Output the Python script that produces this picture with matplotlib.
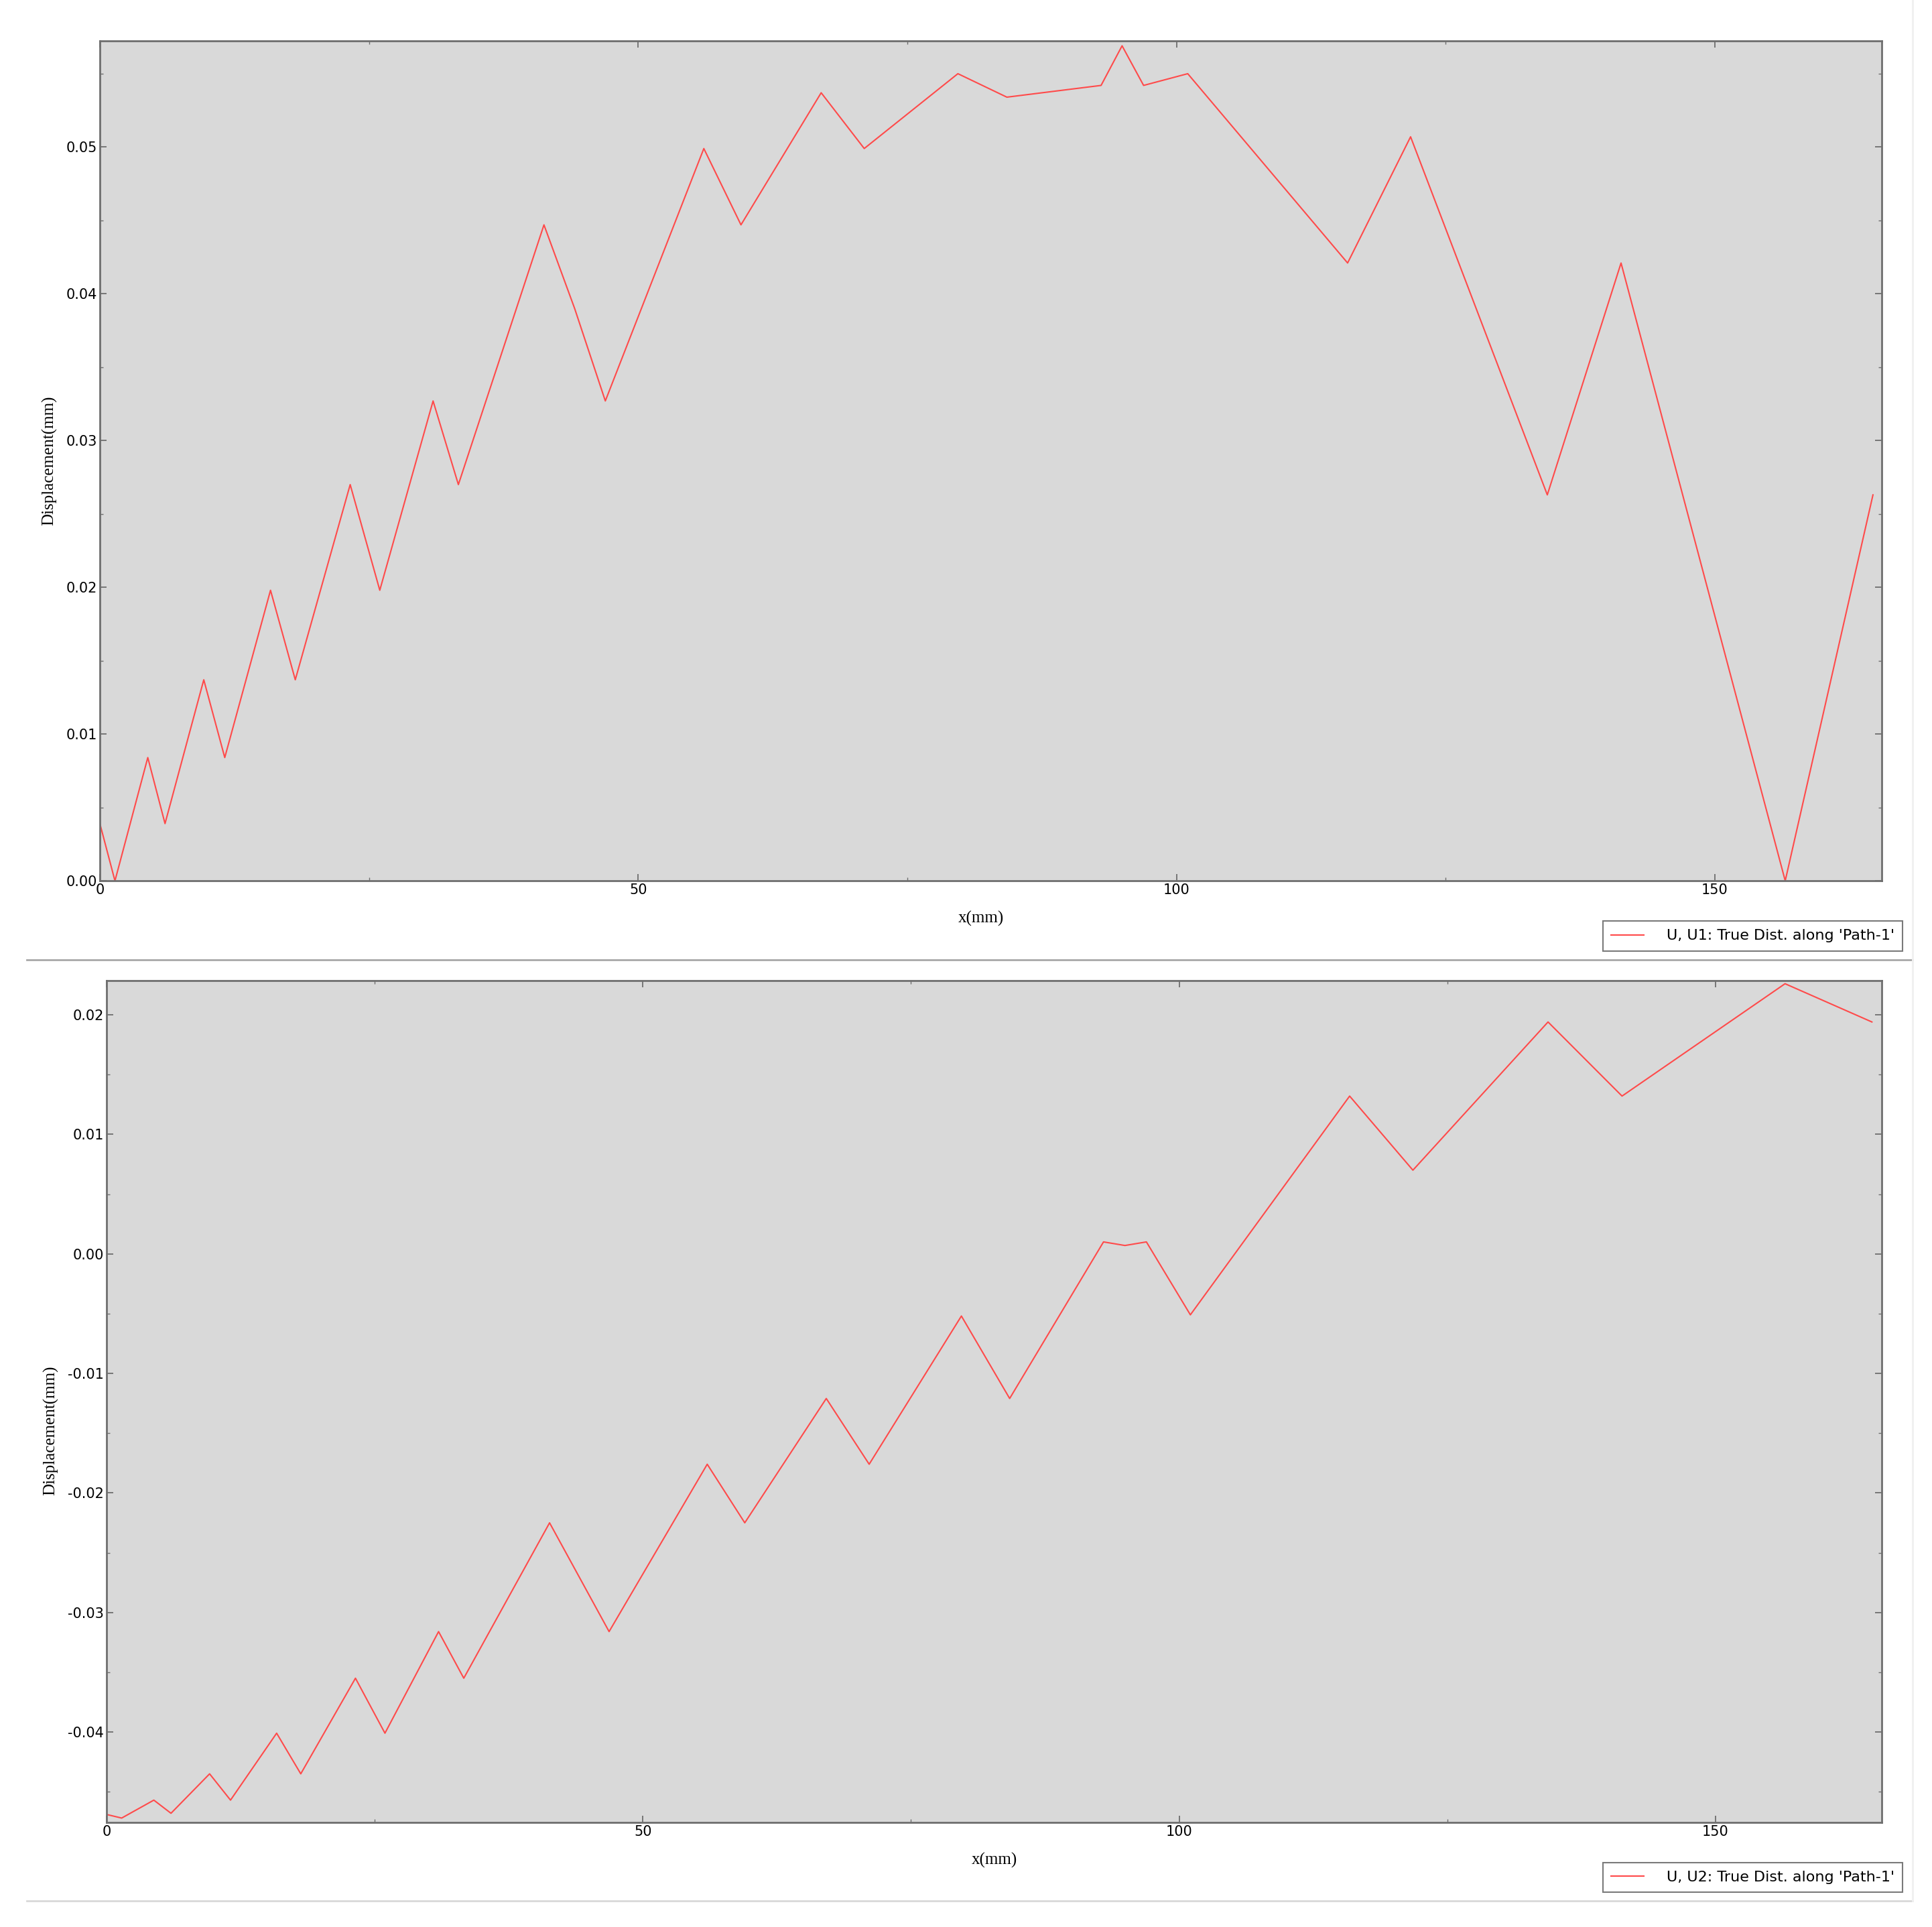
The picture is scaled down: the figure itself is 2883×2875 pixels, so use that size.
import matplotlib
matplotlib.use('Agg')
import matplotlib.pyplot as plt
from matplotlib.ticker import MultipleLocator, FormatStrFormatter
from matplotlib.lines import Line2D

plt.rcParams['axes.unicode_minus'] = False

# ---- data ----
x_u1 = [0, 1.4, 4.45, 6.05, 9.65, 11.6, 15.85, 18.15, 23.25, 26.0, 30.95, 33.3,
        41.25, 44.1, 46.95, 56.1, 59.55, 67.0, 71.0, 79.7, 84.25, 93.0, 94.95,
        96.95, 101.05, 115.9, 121.75, 134.45, 141.3, 156.55, 164.7]
u1 = [0.0039, 0.0, 0.0084, 0.0039, 0.0137, 0.0084, 0.0198, 0.0137, 0.0270, 0.0198,
      0.0327, 0.0270, 0.0447, 0.0390, 0.0327, 0.0499, 0.0447, 0.0537, 0.0499,
      0.0550, 0.0534, 0.0542, 0.0569, 0.0542, 0.0550, 0.0421, 0.0507, 0.0263,
      0.0421, 0.0, 0.0263]

x_u2 = [0, 1.4, 4.4, 6.0, 9.6, 11.55, 15.85, 18.1, 23.2, 25.95, 30.95, 33.3,
        41.3, 46.85, 56.0, 59.5, 67.1, 71.1, 79.7, 84.2, 92.95, 94.95, 96.95,
        101.05, 115.9, 121.8, 134.4, 141.3, 156.5, 164.6]
u2 = [-0.0469, -0.0472, -0.0457, -0.0468, -0.0435, -0.0457, -0.0401, -0.0435,
      -0.0355, -0.0401, -0.0316, -0.0355, -0.0225, -0.0316, -0.0176, -0.0225,
      -0.0121, -0.0176, -0.0052, -0.0121, 0.0010, 0.0007, 0.0010, -0.0051,
      0.0132, 0.0070, 0.0194, 0.0132, 0.0226, 0.0194]

label_u1 = "U, U1: True Dist. along 'Path-1'"
label_u2 = "U, U2: True Dist. along 'Path-1'"

line_col = '#ff4a4a'
face_col = '#d9d9d9'
spine_col = '#6e6e6e'

fig = plt.figure(figsize=(28.83, 28.75), dpi=100)
fig.patch.set_facecolor('white')

ax1 = fig.add_axes([0.0517, 0.5429, 0.9222, 0.4360])
ax2 = fig.add_axes([0.0552, 0.0543, 0.9187, 0.4367])


def style(ax, ylim, ymaj, lab_y, lab_x):
    ax.set_facecolor(face_col)
    ax.set_xlim(0, 165.5)
    ax.set_ylim(*ylim)
    ax.xaxis.set_major_locator(MultipleLocator(50))
    ax.xaxis.set_minor_locator(MultipleLocator(25))
    ax.yaxis.set_major_locator(MultipleLocator(ymaj))
    ax.yaxis.set_minor_locator(MultipleLocator(ymaj / 2))
    ax.yaxis.set_major_formatter(FormatStrFormatter('%.2f'))
    ax.tick_params(which='both', direction='in', top=True, right=True,
                   color=spine_col, labelsize=15, labelcolor='black')
    ax.tick_params(which='major', length=7, width=1.3, pad=3)
    ax.tick_params(which='minor', length=3.5, width=1.0)
    for s in ax.spines.values():
        s.set_color(spine_col)
        s.set_linewidth(2)
    ax.set_xlabel('x(mm)', family='Liberation Serif', fontsize=18)
    ax.set_ylabel('Displacement(mm)', family='Liberation Serif', fontsize=18)
    ax.xaxis.set_label_coords(lab_x, -0.036)
    ax.yaxis.set_label_coords(-0.024, lab_y)


style(ax1, (0, 0.05725), 0.01, 0.5, 0.4945)
ax1.plot(x_u1, u1, color=line_col, lw=1.5)

style(ax2, (-0.04756, 0.02284), 0.01, 0.466, 0.50)
ax2.yaxis.set_label_coords(-0.027, 0.466)
ax2.plot(x_u2, u2, color=line_col, lw=1.5)

# legends below each plot, as in the Abaqus viewport
for lab, top in [(label_u1, 0.5220), (label_u2, 0.0335)]:
    h = Line2D([], [], color=line_col, lw=1.5)
    leg = fig.legend([h], [lab], loc='upper right', bbox_to_anchor=(0.9847, top),
                     bbox_transform=fig.transFigure, fontsize=16, frameon=True,
                     fancybox=False, framealpha=1, edgecolor='#7a7a7a',
                     handlelength=2.2, handletextpad=1.5, borderpad=0.55,
                     borderaxespad=0)
    leg.get_frame().set_linewidth(1.5)

# viewport separators
fig.add_artist(Line2D([0.014, 0.990], [0.5019, 0.5019], color='#a8a8a8', lw=2,
                      transform=fig.transFigure))
fig.add_artist(Line2D([0.014, 0.990], [0.0134, 0.0134], color='#d8d8d8', lw=2,
                      transform=fig.transFigure))
fig.add_artist(Line2D([0.990, 0.990], [0.0134, 1.0], color='#f0f0f0', lw=2,
                      transform=fig.transFigure))

fig.savefig('out.png', dpi=100, facecolor='white')
